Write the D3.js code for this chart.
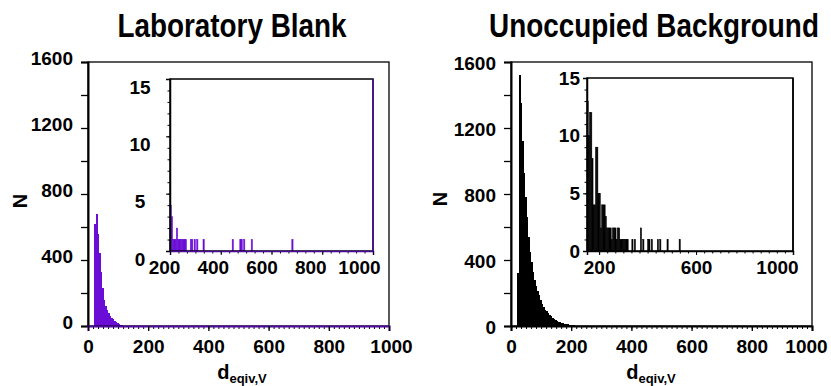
<!DOCTYPE html>
<meta charset="utf-8">
<style>
body { margin: 0; background: #fff; }
svg { display: block; font-family: "Liberation Sans", Arial, sans-serif; font-weight: bold; }
.tick text { font-size: 19px; font-weight: bold; fill: #000; }
.bars rect { shape-rendering: crispEdges; }
</style>
<body>
<script src="https://cdn.jsdelivr.net/npm/d3@7"></script>
<script>
var width = 831,
    height = 386;

// main histograms, bins of 5 (left edge of each bin)
var binWidth = 5;
var blankBins = [20, 25, 30, 35, 40, 45, 50, 55, 60, 65, 70, 75, 80, 85, 90, 95, 100, 105, 110, 115, 120, 125, 130, 135, 140, 145, 150];
var blankN    = [620, 679, 560, 440, 330, 230, 160, 120, 95, 78, 62, 50, 40, 32, 25, 19, 15, 9, 5, 3, 2, 2, 1, 1, 1, 1, 1];
var bgBins = [20, 25, 30, 35, 40, 45, 50, 55, 60, 65, 70, 75, 80, 85, 90, 95, 100, 105, 110, 115, 120, 125, 130, 135, 140, 145,
              150, 155, 160, 165, 170, 175, 180, 185, 190, 195, 200, 205, 210, 215, 220, 225, 230, 235, 240];
var bgN    = [320, 1520, 1350, 1120, 930, 780, 660, 540, 450, 385, 330, 280, 240, 210, 185, 160, 135, 115, 100, 88, 76, 66, 58, 50, 42, 36,
              31, 27, 24, 20, 17, 15, 12, 10, 8, 6, 5, 4, 3, 3, 2, 2, 2, 1, 1];

// inset tails
var blankTailX = [200, 205, 210, 215, 220, 225, 230, 235, 240, 245, 250, 255, 260, 280, 285, 295, 305, 330, 445, 475, 480, 490, 520, 680];
var blankTailN = [4, 3, 1, 1, 1, 2, 1, 1, 1, 1, 1, 1, 1, 1, 1, 1, 1, 1, 1, 1, 1, 1, 1, 1];
var bgTailX = [150, 155, 160, 165, 170, 175, 180, 185, 190, 195, 200, 205, 210, 215, 220, 225, 230, 235, 240, 245, 250, 255, 260, 265,
               270, 275, 280, 285, 290, 295, 300, 305, 310, 315, 335, 345, 370, 380, 400, 405, 415, 440, 450, 480, 530];
var bgTailN = [13, 10, 12, 12, 8, 4, 4, 9, 9, 5, 5, 2, 4, 4, 4, 3, 2, 2, 2, 2, 1, 2, 2, 2,
               1, 2, 2, 1, 1, 1, 1, 1, 1, 1, 1, 1, 2, 1, 1, 1, 1, 1, 1, 1, 1];

// ticks and labels
var mainXTicks = [0, 200, 400, 600, 800, 1000];
var mainYTicks = [0, 400, 800, 1200, 1600];
var insetYTicks = [0, 5, 10, 15];
var blankInsetXTicks = [200, 400, 600, 800, 1000];
var bgInsetXTicks = [200, 600, 1000];
var titles = ["Laboratory Blank", "Unoccupied Background"];

var fmt = d3.format("d");

var svg = d3.select("body").append("svg")
    .attr("width", width)
    .attr("height", height);

function panel(o) {
  var g = svg.append("g");
  var x = d3.scaleLinear().domain([0, 1000]).range([o.left, o.right]);
  var y = d3.scaleLinear().domain([0, 1600]).range([o.bottom, o.top]);

  // histogram bars
  g.append("g").attr("class", "bars").selectAll("rect")
      .data(o.bins.map(function(b, i) { return [b, o.counts[i]]; }))
    .enter().append("rect")
      .attr("x", function(d) { return x(d[0]); })
      .attr("width", function(d) { return x(d[0] + binWidth) - x(d[0]) + 0.6; })
      .attr("y", function(d) { return y(d[1]); })
      .attr("height", function(d) { return y(0) - y(d[1]); })
      .attr("fill", o.color);

  // frame
  g.append("rect")
      .attr("x", o.left).attr("y", o.top)
      .attr("width", o.right - o.left).attr("height", o.bottom - o.top)
      .attr("fill", "none").attr("stroke", "#000").attr("stroke-width", 1.3);

  // y axis
  var ya = g.append("g")
      .attr("transform", "translate(" + o.left + ",0)")
      .call(d3.axisLeft(y).tickValues(d3.range(0, 1601, 200)).tickSize(7).tickPadding(8)
        .tickFormat(function(d) { return mainYTicks.indexOf(d) >= 0 ? fmt(d) : ""; }));
  ya.select(".domain").attr("stroke-width", 2);
  ya.selectAll(".tick line").attr("stroke-width", 1.3);
  ya.selectAll(".tick text").attr("transform", "translate(0," + o.yLabelShift + ")");

  // x axis
  var xaMinor = g.append("g")
      .attr("transform", "translate(0," + o.bottom + ")")
      .call(d3.axisBottom(x).tickValues(d3.range(0, 1000.1, 200 / 12)).tickSize(3).tickFormat(""));
  xaMinor.select(".domain").remove();
  var xa = g.append("g")
      .attr("transform", "translate(0," + o.bottom + ")")
      .call(d3.axisBottom(x).tickValues(mainXTicks).tickSize(5).tickPadding(9).tickFormat(fmt));
  xa.select(".domain").attr("stroke-width", 2).attr("stroke", o.baseColor);
  xa.selectAll(".tick line").attr("stroke-width", 1.3);
  xa.selectAll(".tick text").attr("dx", function(d) { return d === 1000 ? o.lastXShift : 0; });

  // axis titles
  g.append("text")
      .attr("transform", "translate(" + o.nX + "," + o.nY + ") rotate(-90)")
      .attr("text-anchor", "middle")
      .attr("dy", "0.35em")
      .attr("font-size", 20)
      .text("N");
  var xl = g.append("text")
      .attr("x", o.dX).attr("y", 379)
      .attr("text-anchor", "middle");
  xl.append("tspan").attr("font-size", 20).text("d");
  xl.append("tspan").attr("font-size", 13).attr("dy", 4).text("eqiv,V");

  // title
  g.append("text")
      .attr("transform", "translate(" + o.titleX + ",37) scale(0.82,1)")
      .attr("text-anchor", "middle")
      .attr("font-size", 34)
      .text(o.title);

  // inset
  var I = o.inset;
  var xi = d3.scaleLinear().domain(I.domain).range([I.left, I.right]);
  var yi = d3.scaleLinear().domain([0, 15]).range([I.bottom, I.top]);
  g.append("rect")
      .attr("x", I.left).attr("y", I.top)
      .attr("width", I.right - I.left).attr("height", I.bottom - I.top)
      .attr("fill", "#fff");
  g.append("g").selectAll("rect")
      .data(I.xs.map(function(v, i) { return [v, I.ns[i]]; }))
    .enter().append("rect")
      .attr("x", function(d) { return xi(d[0]); })
      .attr("width", function(d) { return xi(d[0] + binWidth) - xi(d[0]); })
      .attr("y", function(d) { return yi(d[1]); })
      .attr("height", function(d) { return yi(0) - yi(d[1]); })
      .attr("fill", o.color)
      .attr("stroke", o.color)
      .attr("stroke-width", 0.5);
  g.append("rect")
      .attr("x", I.left).attr("y", I.top)
      .attr("width", I.right - I.left).attr("height", I.bottom - I.top)
      .attr("fill", "none").attr("stroke", "#000").attr("stroke-width", 1.5);
  g.append("line")
      .attr("x1", I.right).attr("x2", I.right)
      .attr("y1", I.top).attr("y2", I.bottom)
      .attr("stroke", o.baseColor).attr("stroke-width", 1.5);

  var yiMinor = g.append("g")
      .attr("transform", "translate(" + I.left + ",0)")
      .call(d3.axisLeft(yi).tickValues(d3.range(0, 15.1, 1)).tickSize(2.5).tickFormat(""));
  yiMinor.select(".domain").remove();
  var yia = g.append("g")
      .attr("transform", "translate(" + I.left + ",0)")
      .call(d3.axisLeft(yi).tickValues(insetYTicks).tickSize(4).tickPadding(3));
  yia.select(".domain").attr("stroke-width", 1.5);
  if (I.yLabelX !== undefined) {
    yia.selectAll(".tick text")
        .attr("text-anchor", "middle")
        .attr("x", I.yLabelX - I.left);
  }
  yia.selectAll(".tick text").attr("transform", "translate(0," + I.yLabelShift + ")");

  var xiMinor = g.append("g")
      .attr("transform", "translate(0," + I.bottom + ")")
      .call(d3.axisBottom(xi).tickValues(d3.range(200, 1000.1, 200 / 6)).tickSize(2.5).tickFormat(""));
  xiMinor.select(".domain").remove();
  var xia = g.append("g")
      .attr("transform", "translate(0," + I.bottom + ")")
      .call(d3.axisBottom(xi).tickValues(I.ticks).tickSize(4).tickPadding(6).tickFormat(fmt));
  xia.select(".domain").attr("stroke-width", 1.5).attr("stroke", o.baseColor);
  xia.selectAll(".tick text").attr("transform", function(d) {
    return "translate(" + (I.labelX(d) - xi(d)) + ",0)";
  });
}

panel({
  title: titles[0], titleX: 232, color: "#6a0dd6", baseColor: "#4b0a9a",
  left: 88, right: 389, top: 62, bottom: 326, yLabelShift: -4, lastXShift: 2,
  bins: blankBins, counts: blankN, nX: 20, nY: 201, dX: 242,
  inset: {
    left: 170, right: 373, top: 79, bottom: 251, domain: [200, 1000],
    xs: blankTailX, ns: blankTailN, ticks: blankInsetXTicks, yLabelX: 140, yLabelShift: 8,
    labelX: d3.scaleLinear().domain([200, 1000]).range([164, 359])
  }
});

panel({
  title: titles[1], titleX: 654, color: "#000", baseColor: "#000",
  left: 511, right: 812, top: 62, bottom: 326, yLabelShift: 1, lastXShift: -6,
  bins: bgBins, counts: bgN, nX: 440, nY: 199, dX: 651,
  inset: {
    left: 587, right: 793, top: 78, bottom: 251, domain: [150, 1000],
    xs: bgTailX, ns: bgTailN, ticks: bgInsetXTicks, yLabelShift: 0,
    labelX: function(d) { return d === 1000 ? 777 : 587 + (d - 150) * 206 / 850; }
  }
});
</script>
